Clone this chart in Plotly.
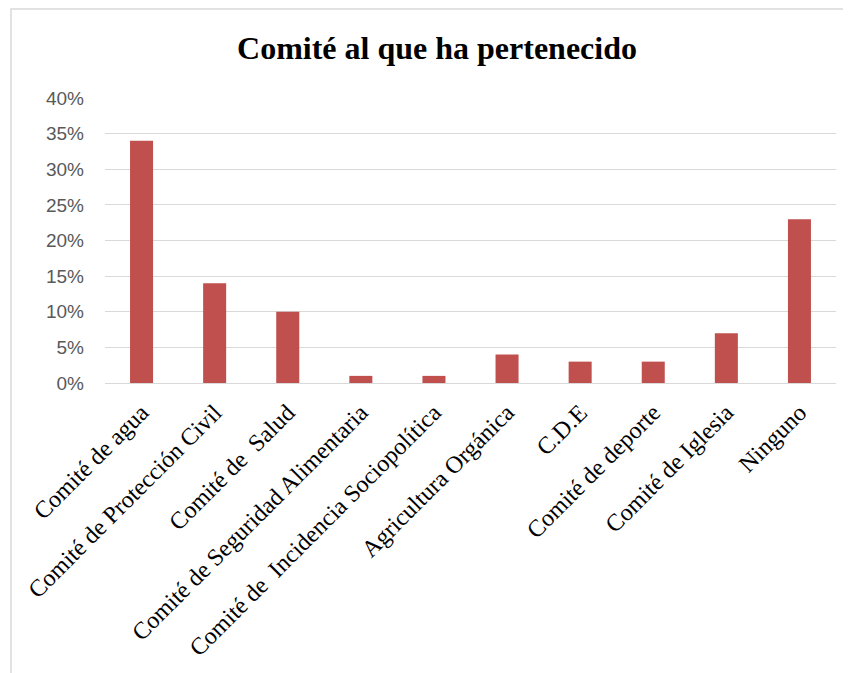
import plotly.graph_objects as go

categories = [
    "Comité de agua",
    "Comité de Protección Civil",
    "Comité de  Salud",
    "Comité de Seguridad Alimentaria",
    "Comité de  Incidencia Sociopolítica",
    "Agricultura Orgánica",
    "C.D.E",
    "Comité de deporte",
    "Comité de Iglesia",
    "Ninguno",
]
values = [0.34, 0.14, 0.10, 0.01, 0.01, 0.04, 0.03, 0.03, 0.07, 0.23]
y_ticks = [0, 0.05, 0.10, 0.15, 0.20, 0.25, 0.30, 0.35, 0.40]
y_tick_labels = ["0%", "5%", "10%", "15%", "20%", "25%", "30%", "35%", "40%"]

# page body has an 8px margin, so the figure is laid out 8px in from the window
fig = go.Figure(
    data=[go.Bar(x=categories, y=values, marker=dict(color="#C0504D", line=dict(width=0)))]
)

fig.update_layout(
    width=843,
    height=665,
    margin=dict(l=97, r=15, t=90, b=290),
    paper_bgcolor="white",
    plot_bgcolor="white",
    bargap=0.685,
    showlegend=False,
    title=dict(
        text="<b>Comité al que ha pertenecido</b>",
        x=429 / 843,
        xanchor="center",
        y=1 - 40 / 665,
        yanchor="middle",
        font=dict(family="Liberation Serif", size=32, color="black"),
    ),
)

fig.update_xaxes(
    tickangle=-45,
    tickfont=dict(family="Liberation Serif", size=24, color="black"),
    showline=True,
    linecolor="#d9d9d9",
    linewidth=1,
    ticks="",
    ticklabelstandoff=5,
)
fig.update_yaxes(
    range=[0, 0.4],
    tickvals=y_ticks,
    ticktext=y_tick_labels,
    tickfont=dict(family="Liberation Sans", size=19, color="#595959"),
    showgrid=True,
    gridcolor="#d9d9d9",
    gridwidth=1,
    zeroline=False,
    ticks="",
    ticklabelstandoff=20,
)

# chart frame
fig.add_shape(
    type="rect",
    xref="paper",
    yref="paper",
    x0=(3 - 97) / 731,
    x1=1.2,
    y0=-2,
    y1=1 + 89 / 285,
    line=dict(color="#d9d9d9", width=1.5),
    layer="below",
)

fig.write_html("out.html")
